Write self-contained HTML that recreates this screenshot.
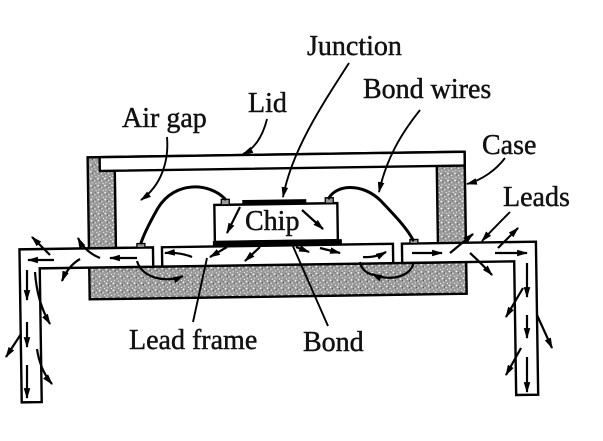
<!DOCTYPE html>
<html><head><meta charset="utf-8"><style>
html,body{margin:0;padding:0;background:#fff;}
svg{display:block;}
text{font-family:"Liberation Serif",serif;font-size:28px;fill:#111;stroke:#111;stroke-width:0.45px;}
</style></head><body>
<svg width="603" height="441" viewBox="0 0 603 441" xmlns="http://www.w3.org/2000/svg">
<defs>
<pattern id="st" width="7" height="7" patternUnits="userSpaceOnUse">
<rect width="7" height="7" fill="#989898"/>
<circle cx="1" cy="1" r="0.9" fill="#fff"/>
<circle cx="4.5" cy="3" r="0.8" fill="#eee"/>
<circle cx="2" cy="5" r="0.7" fill="#ddd"/>
<circle cx="6" cy="6" r="0.6" fill="#fff"/>
<circle cx="3" cy="2.5" r="0.6" fill="#444"/>
<circle cx="5.5" cy="0.5" r="0.5" fill="#555"/>
</pattern>
<marker id="a" viewBox="0 0 10 6" refX="9" refY="3" markerWidth="11" markerHeight="6.6" markerUnits="userSpaceOnUse" orient="auto"><path d="M0,0 L10,3 L0,6 z" fill="#000"/></marker>
</defs>
<rect width="603" height="441" fill="#fff"/>

<g transform="rotate(-0.85 280 250)">
  <path d="M89,154.5 L466,154.5 L466,296.5 L89,296.5 Z M116,154.5 L116,264.8 L438,264.8 L438,154.5 Z" fill="url(#st)" fill-rule="evenodd" stroke="#000" stroke-width="2.4"/>
  <rect x="101" y="154.5" width="365" height="13.8" fill="#fff" stroke="#000" stroke-width="2.4"/>
  <path d="M19.5,398.5 L19.5,245.5 L153,245.5 L153,264.8 L39.5,264.8 L39.5,398.5 Z" fill="#fff" stroke="#000" stroke-width="2.4"/>
  <path d="M402,245.5 L536,245.5 L536,398.5 L514,398.5 L514,264.8 L402,264.8 Z" fill="#fff" stroke="#000" stroke-width="2.4"/>
  <rect x="162" y="245.5" width="231" height="19.3" fill="#fff" stroke="#000" stroke-width="2.4"/>
  <rect x="215" y="204" width="123" height="37" fill="#fff" stroke="#000" stroke-width="2.4"/>
  <rect x="243" y="199.5" width="64" height="4.5" fill="#000"/>
  <rect x="213" y="240" width="129" height="5.5" fill="#000"/>
  <rect x="222" y="198.5" width="8" height="5.5" fill="#999" stroke="#000" stroke-width="1.3"/>
  <rect x="326" y="198.5" width="8" height="5.5" fill="#999" stroke="#000" stroke-width="1.3"/>
  <rect x="137" y="241.5" width="8" height="4" fill="#999" stroke="#000" stroke-width="1.3"/>
  <rect x="410" y="241.5" width="8" height="4" fill="#999" stroke="#000" stroke-width="1.3"/>
</g>

<g fill="none" stroke="#000" stroke-width="3" stroke-linecap="round">
  <path d="M225,199 C210,183 175,180 158,208 C150,222 144,234 141,243"/>
  <path d="M329,198 C336,185 362,182 381,201 C395,216 407,228 413,240"/>
</g>

<g fill="none" stroke="#000" stroke-width="1.9" marker-end="url(#a)">
  <path d="M167,137 C169,160 162,185 141,200"/>
  <path d="M267,119 C263,135 256,148 243,154"/>
  <path d="M349,63 C322,105 292,150 283,197"/>
  <path d="M420,110 C400,135 386,160 379,192"/>
  <path d="M505,158 C496,170 482,180 467,184"/>
  <path d="M510,212 C500,222 490,232 482,241"/>
</g>
<g fill="none" stroke="#000" stroke-width="1.9">
  <path d="M193,322 L207,258"/>
  <path d="M328,326 L292,244"/>
</g>

<g fill="none" stroke="#000" stroke-width="2.2" marker-end="url(#a)">
  <path d="M50,255 L32,237"/>
  <path d="M54,260 L28,260"/>
  <path d="M80,259 Q68,266 62,281"/>
  <path d="M100,258 Q85,252 78,238"/>
  <path d="M137,258 L110,258"/>
  <path d="M27,270 L27,300"/>
  <path d="M27,322 L27,347"/>
  <path d="M27,365 L27,398"/>
  <path d="M35,272 Q37,302 50,324"/>
  <path d="M37,349 Q40,370 52,384"/>
  <path d="M21,334 L6,357"/>
  <path d="M523,288 L506,317"/>
  <path d="M521,348 L506,375"/>
  <path d="M537,315 L552,348"/>
  <path d="M527,263 L527,297"/>
  <path d="M527,315 L527,338"/>
  <path d="M527,357 L527,392"/>
  <path d="M412,253 L442,253"/>
  <path d="M450,253 L473,234"/>
  <path d="M470,253 Q480,262 492,275"/>
  <path d="M495,253 L527,253"/>
  <path d="M498,248 L518,228"/>
  <path d="M192,257 Q180,252 165,253"/>
  <path d="M227,247 L210,257"/>
  <path d="M260,247 L245,261"/>
  <path d="M296,247 L309,252"/>
  <path d="M320,248 L340,253"/>
  <path d="M363,257 Q375,258 386,252"/>
  <path d="M240,207 L227,233"/>
  <path d="M302,210 L323,229"/>
  <path d="M137,261 C142,279 168,283 183,276"/>
  <path d="M414,262 C410,279 387,281 372,274"/>
</g>
<path d="M360,262 Q362,272 373,275" fill="none" stroke="#000" stroke-width="2.2"/>

<text x="307" y="55">Junction</text>
<text x="363" y="98">Bond wires</text>
<text x="248" y="112">Lid</text>
<text x="122" y="127">Air gap</text>
<text x="482" y="154">Case</text>
<text x="503" y="206">Leads</text>
<text x="245" y="230">Chip</text>
<text x="129" y="349">Lead frame</text>
<text x="303" y="351">Bond</text>
</svg>
</body></html>
